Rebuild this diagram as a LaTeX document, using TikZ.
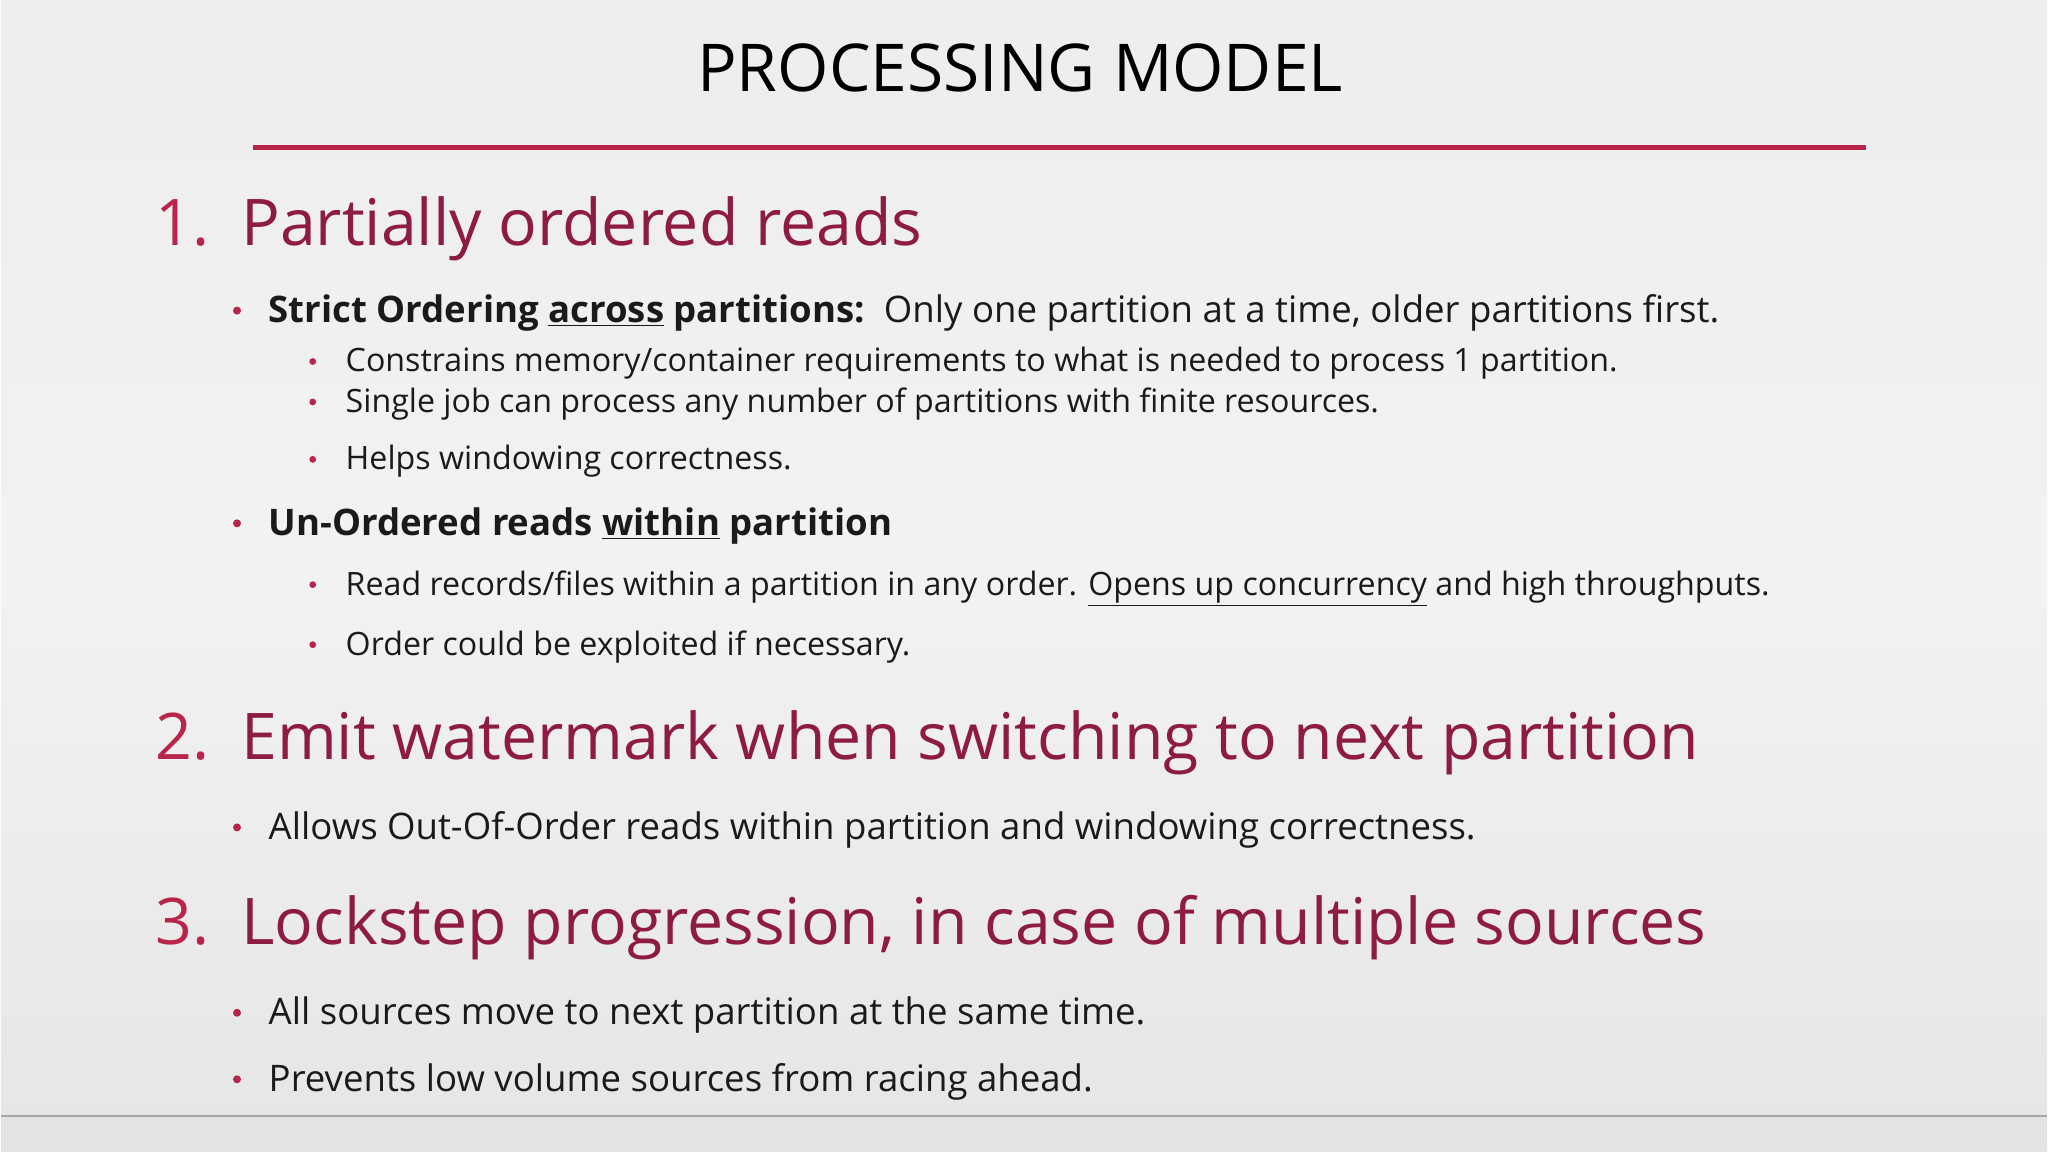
\documentclass[tikz,border=0pt]{standalone}
\usepackage{fontspec}
\setmainfont{Open Sans}
\definecolor{hdr}{HTML}{8E1B40}
\definecolor{num}{HTML}{B8254A}
\definecolor{txt}{HTML}{1A1A1A}
\begin{document}
\begin{tikzpicture}[x=0.653pt,y=-0.653pt,
  title/.style={anchor=base,font=\fontsize{33}{36}\selectfont,text=black},
  head/.style={anchor=base west,font=\fontsize{32.2}{36}\selectfont,text=hdr,inner sep=0},
  hnum/.style={anchor=base west,font=\fontsize{32.2}{36}\selectfont,text=num,inner sep=0},
  lone/.style={anchor=base west,font=\fontsize{18.3}{22}\selectfont,text=txt,inner sep=0},
  ltwo/.style={anchor=base west,font=\fontsize{16.1}{20}\selectfont,text=txt,inner sep=0},
  dot/.style={circle,fill=num,inner sep=0,minimum size=4pt}]
\shade[top color=white!86!gray,bottom color=white!80!gray,middle color=white!90!gray] (0,0) rectangle (1568,882);
\fill[white!78!gray] (0,855) rectangle (1568,882);
\draw[gray!70,line width=0.8pt] (0,855) -- (1568,855);
\useasboundingbox (0,0) rectangle (1568,882);
\node[title] (t) at (781,70) {PROCESSING MODEL};
\draw[num,line width=2.2pt] (193,113) coordinate (la) -- (1429,113) coordinate (lb);
% headings
\node[hnum] (n1) at (118,188) {1.};
\node[head] (h1) at (184,188) {Partially ordered reads};
\node[hnum] (n2) at (118,582) {2.};
\node[head] (h2) at (184,582) {Emit watermark when switching to next partition};
\node[hnum] (n3) at (118,724) {3.};
\node[head] (h3) at (184,724) {Lockstep progression, in case of multiple sources};
% level 1
\foreach \y/\t [count=\i] in {
 247/{\textbf{Strict Ordering \underline{across} partitions:}\ \ Only one partition at a time, older partitions first.},
 410/{\textbf{Un-Ordered reads \underline{within} partition}},
 643/{Allows Out-Of-Order reads within partition and windowing correctness.},
 785/{All sources move to next partition at the same time.},
 836/{Prevents low volume sources from racing ahead.}}{
 \node[dot] (da\i) at (181,\y-9) {};
 \node[lone] (a\i) at (205,\y) {\t};
}
% level 2
\foreach \y/\t [count=\i] in {
 285/{Constrains memory/container requirements to what is needed to process 1 partition.},
 316/{Single job can process any number of partitions with finite resources.},
 360/{Helps windowing correctness.},
 456/{Read records/files within a partition in any order. \underline{Opens up concurrency} and high throughputs.},
 502/{Order could be exploited if necessary.}}{
 \node[dot,minimum size=3.4pt] (db\i) at (239,\y-8) {};
 \node[ltwo] (b\i) at (264,\y) {\t};
}
\end{tikzpicture}
\end{document}
